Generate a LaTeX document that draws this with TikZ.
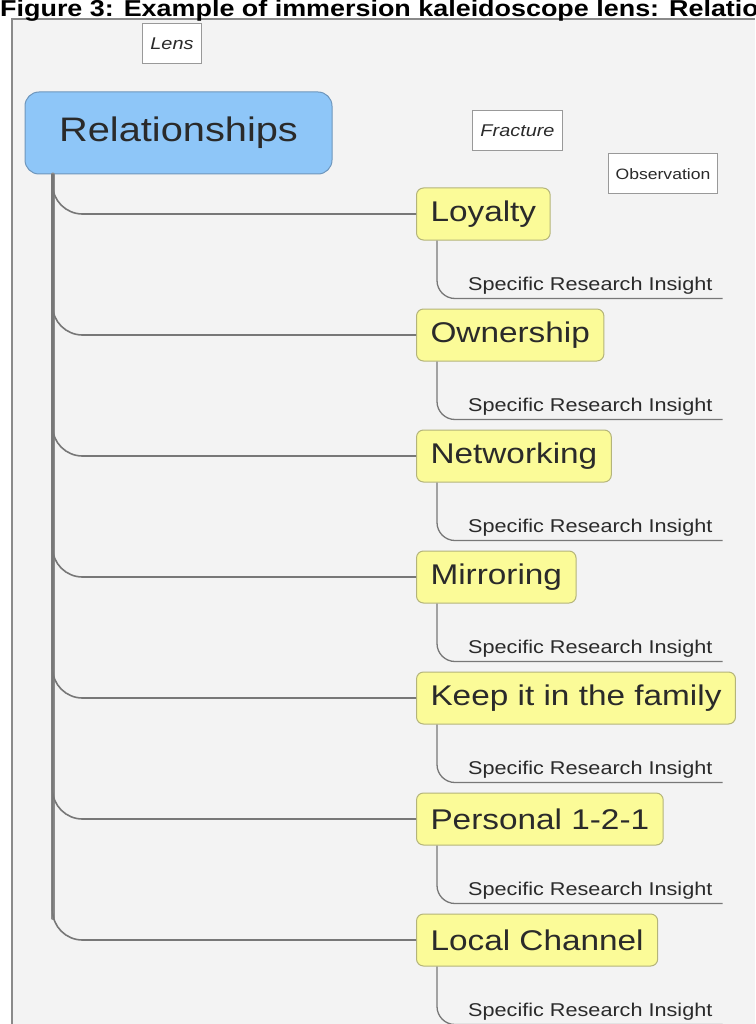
\documentclass[tikz,border=0pt]{standalone}
\usepackage{fontspec}
\setmainfont{Liberation Sans}[FakeStretch=1.17]
\usetikzlibrary{positioning}

\definecolor{panelfill}{HTML}{F3F3F3}
\definecolor{panelline}{HTML}{8A8A8A}
\definecolor{rootfill}{HTML}{8EC6F8}
\definecolor{rootedge}{HTML}{6E96BC}
\definecolor{topicfill}{HTML}{FBFB98}
\definecolor{topicedge}{HTML}{B4B47A}
\definecolor{tagedge}{HTML}{999999}
\definecolor{linegray}{HTML}{777777}
\definecolor{inktext}{HTML}{2A2A2A}

\begin{document}
\begin{tikzpicture}[x=1pt, y=-1pt,
		root/.style={draw=rootedge, fill=rootfill, line width=1pt, rounded corners=14pt, minimum width=307pt, minimum height=82pt, text=inktext, font=\fontsize{34}{36}\selectfont},
		topic/.style={draw=topicedge, fill=topicfill, line width=1pt, rounded corners=7pt, minimum height=52pt, inner xsep=14pt, text=inktext, font=\fontsize{28.5}{30}\selectfont},
		tag/.style={draw=tagedge, fill=white, line width=1pt, minimum height=40pt, inner xsep=8pt, text=inktext, font=\itshape\fontsize{17}{19}\selectfont},
		insight/.style={inner xsep=7pt, inner ysep=4pt, text=inktext, font=\fontsize{18.5}{20}\selectfont},
		branch/.style={draw=linegray, line width=1.6pt, rounded corners=30pt},
		stem/.style={draw=linegray!85, line width=4pt, line cap=round},
		subbranch/.style={draw=linegray, line width=1.3pt, rounded corners=18pt}
		]
		\useasboundingbox (0,0) rectangle (755,1024);
		\fill[white] (0,0) rectangle (755,1024);
		\fill[panelfill] (12,19) rectangle (755,1024);
		\draw[panelline, line width=2pt] (12,1024) -- (12,19) -- (755,19);
		\node[anchor=base west, inner sep=0pt, font=\bfseries\fontsize{23}{25}\selectfont] (title) at (0,17) {Figure 3: Example of immersion kaleidoscope lens: Relatio};
		
		\node[root] (rel) at (178.5,133) {Relationships};
		\node[tag] (lens) at (172,43.5) {Lens};
		\node[tag] (fracture) at (517.5,131) {Fracture};
		\node[tag, font=\fontsize{15}{17}\selectfont, inner xsep=7pt] (observation) at (663,174) {Observation};
		
		\node[topic, anchor=west] (loyalty) at (416,214) {Loyalty};
		\node[topic, below=68pt of loyalty.south west, anchor=north west] (ownership) {Ownership};
		\node[topic, below=68pt of ownership.south west, anchor=north west] (networking) {Networking};
		\node[topic, below=68pt of networking.south west, anchor=north west] (mirroring) {Mirroring};
		\node[topic, below=68pt of mirroring.south west, anchor=north west] (family) {Keep it in the family};
		\node[topic, below=68pt of family.south west, anchor=north west] (personal) {Personal 1-2-1};
		\node[topic, below=68pt of personal.south west, anchor=north west] (local) {Local Channel};
		
		\node[insight, below right=58pt and 45pt of loyalty.south west, anchor=south west] (ins1) {Specific Research Insight};
		\node[insight, below right=58pt and 45pt of ownership.south west, anchor=south west] (ins2) {Specific Research Insight};
		\node[insight, below right=58pt and 45pt of networking.south west, anchor=south west] (ins3) {Specific Research Insight};
		\node[insight, below right=58pt and 45pt of mirroring.south west, anchor=south west] (ins4) {Specific Research Insight};
		\node[insight, below right=58pt and 45pt of family.south west, anchor=south west] (ins5) {Specific Research Insight};
		\node[insight, below right=58pt and 45pt of personal.south west, anchor=south west] (ins6) {Specific Research Insight};
		\node[insight, below right=58pt and 45pt of local.south west, anchor=south west] (ins7) {Specific Research Insight};
		
		% trunk down the left, one branch per topic
		\coordinate (trunk) at ([xshift=28pt]rel.south west);
		\draw[stem, shorten >=22pt] (trunk) -- (trunk |- local.west);
		\draw[branch] (trunk) |- (loyalty.west);
		\draw[branch] (trunk) |- (ownership.west);
		\draw[branch] (trunk) |- (networking.west);
		\draw[branch] (trunk) |- (mirroring.west);
		\draw[branch] (trunk) |- (family.west);
		\draw[branch] (trunk) |- (personal.west);
		\draw[branch] (trunk) |- (local.west);
		
		\draw[subbranch] ([xshift=21pt]loyalty.south west) |- ([xshift=3pt]ins1.south east);
		\draw[subbranch] ([xshift=21pt]ownership.south west) |- ([xshift=3pt]ins2.south east);
		\draw[subbranch] ([xshift=21pt]networking.south west) |- ([xshift=3pt]ins3.south east);
		\draw[subbranch] ([xshift=21pt]mirroring.south west) |- ([xshift=3pt]ins4.south east);
		\draw[subbranch] ([xshift=21pt]family.south west) |- ([xshift=3pt]ins5.south east);
		\draw[subbranch] ([xshift=21pt]personal.south west) |- ([xshift=3pt]ins6.south east);
		\draw[subbranch] ([xshift=21pt]local.south west) |- ([xshift=3pt]ins7.south east);
\end{tikzpicture}
\end{document}
